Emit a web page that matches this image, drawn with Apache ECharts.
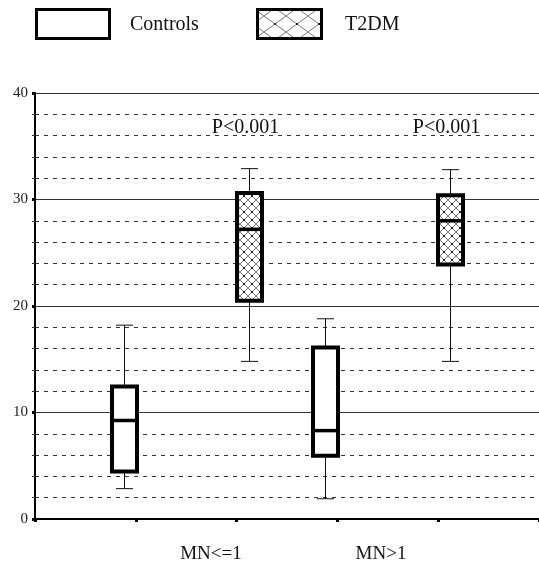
<!DOCTYPE html>
<html>
<head>
<meta charset="utf-8">
<script src="https://cdn.jsdelivr.net/npm/echarts@6/dist/echarts.min.js"></script>
<style>
  html, body { margin: 0; padding: 0; background: #fff; }
  #chart { width: 539px; height: 571px; }
</style>
</head>
<body>
<div id="chart"></div>
<script>
// groups on the x axis
var categories = ['MN<=1', 'MN>1'];
// [lower whisker, Q1, median, Q3, upper whisker]
var controls = [
    [2.85, 4.45, 9.25, 12.45, 18.2],
    [1.9, 5.95, 8.3, 16.1, 18.8]
];
var t2dm = [
    [14.8, 20.5, 27.2, 30.6, 32.9],
    [14.8, 23.9, 28.0, 30.4, 32.8]
];
var pValues = ['P<0.001', 'P<0.001'];
var yTicks = [0, 10, 20, 30, 40];

var FONT = '"Liberation Serif", "Times New Roman", serif';

// 交叉线填充
function hatch(w, h, color) {
    var c = document.createElement('canvas');
    c.width = w; c.height = h;
    var ctx = c.getContext('2d');
    ctx.fillStyle = '#fff';
    ctx.fillRect(0, 0, w, h);
    ctx.strokeStyle = color;
    ctx.lineWidth = 1;
    ctx.beginPath();
    ctx.moveTo(0, 0); ctx.lineTo(w, h);
    ctx.moveTo(w, 0); ctx.lineTo(0, h);
    ctx.stroke();
    ctx.fillStyle = '#222';
    ctx.fillRect(w / 2 - 1, h / 2 - 1, 2, 2);
    return c;
}
var boxHatch = { image: hatch(8, 8, '#777'), repeat: 'repeat' };
var legendHatch = { image: hatch(22, 16, '#777'), repeat: 'repeat' };

// group i sits at x = 1.5 + 2i, controls left, T2DM right
function groupX(i) { return 1.5 + 2 * i; }
var OFFSET = 0.62;

function makeRender(side, fill, withP) {
    return function (params, api) {
        var i = api.value(0);
        var x = groupX(i) + side * OFFSET;
        var lo = api.coord([x, api.value(1)]);
        var q1 = api.coord([x, api.value(2)]);
        var med = api.coord([x, api.value(3)]);
        var q3 = api.coord([x, api.value(4)]);
        var hi = api.coord([x, api.value(5)]);
        var cx = Math.round(lo[0]) + 0.5;
        var half = 12.5, cap = 8.5;
        var thin = { stroke: '#111', lineWidth: 1 };
        var kids = [
            { type: 'line', shape: { x1: cx, y1: hi[1], x2: cx, y2: q3[1] }, style: thin },
            { type: 'line', shape: { x1: cx, y1: q1[1], x2: cx, y2: lo[1] }, style: thin },
            { type: 'line', shape: { x1: cx - cap, y1: hi[1], x2: cx + cap, y2: hi[1] }, style: thin },
            { type: 'line', shape: { x1: cx - cap, y1: lo[1], x2: cx + cap, y2: lo[1] }, style: thin },
            { type: 'rect', shape: { x: cx - half, y: q3[1], width: half * 2, height: q1[1] - q3[1] },
              style: { fill: fill, stroke: '#000', lineWidth: 4 } },
            { type: 'line', shape: { x1: cx - half, y1: med[1], x2: cx + half, y2: med[1] },
              style: { stroke: '#000', lineWidth: 3.5 } }
        ];
        if (withP) {
            var pt = api.coord([x, 36]);
            kids.push({ type: 'text', style: {
                text: pValues[i], x: cx - 4, y: pt[1] + 2, align: 'center', verticalAlign: 'bottom',
                font: '20px ' + FONT, fill: '#111'
            }});
        }
        return { type: 'group', children: kids };
    };
}

var chart = echarts.init(document.getElementById('chart'));
var option = {
    animation: false,
    backgroundColor: '#fff',
    grid: { left: 35, right: -7, top: 93, bottom: 52 },
    xAxis: {
        type: 'value', min: 0, max: 5, interval: 1,
        axisLine: { show: true, onZero: false, lineStyle: { color: '#000', width: 2 } },
        axisTick: { show: true, length: 3, inside: false, lineStyle: { color: '#000', width: 3 } },
        axisLabel: { show: false },
        splitLine: { show: false }
    },
    yAxis: {
        type: 'value', min: 0, max: 40, interval: 10,
        axisLine: { show: true, lineStyle: { color: '#000', width: 2 } },
        axisTick: { show: true, length: 3, lineStyle: { color: '#000', width: 3 } },
        minorTick: { show: true, splitNumber: 5, length: 3, lineStyle: { color: '#333', width: 1 } },
        axisLabel: {
            margin: 7, color: '#222', fontFamily: FONT, fontSize: 15,
            formatter: function (v) { return yTicks.indexOf(v) >= 0 ? String(v) : ''; }
        },
        splitLine: { show: true, lineStyle: { color: '#333', width: 1 } },
        minorSplitLine: { show: true, lineStyle: { color: '#333', width: 1, type: [4, 5] } }
    },
    graphic: [
        { type: 'rect', shape: { x: 36.5, y: 9.5, width: 73, height: 29 },
          style: { fill: '#fff', stroke: '#000', lineWidth: 3 } },
        { type: 'text', x: 130, y: 25, style: { text: 'Controls', font: '20px ' + FONT, fill: '#111', verticalAlign: 'middle' } },
        { type: 'rect', shape: { x: 257.5, y: 9.5, width: 64, height: 29 },
          style: { fill: legendHatch, stroke: '#000', lineWidth: 3 } },
        { type: 'text', x: 345, y: 25, style: { text: 'T2DM', font: '20px ' + FONT, fill: '#111', verticalAlign: 'middle' } },
        { type: 'text', x: 211, y: 554, style: { text: categories[0], font: '19px ' + FONT, fill: '#111', align: 'center', verticalAlign: 'middle' } },
        { type: 'text', x: 381, y: 554, style: { text: categories[1], font: '19px ' + FONT, fill: '#111', align: 'center', verticalAlign: 'middle' } }
    ],
    series: [
        {
            name: 'Controls', type: 'custom',
            renderItem: makeRender(-1, '#fff', false),
            data: controls.map(function (v, i) { return [i].concat(v); }),
            z: 5
        },
        {
            name: 'T2DM', type: 'custom',
            renderItem: makeRender(1, boxHatch, true),
            data: t2dm.map(function (v, i) { return [i].concat(v); }),
            z: 5
        }
    ]
};
chart.setOption(option);
</script>
</body>
</html>
